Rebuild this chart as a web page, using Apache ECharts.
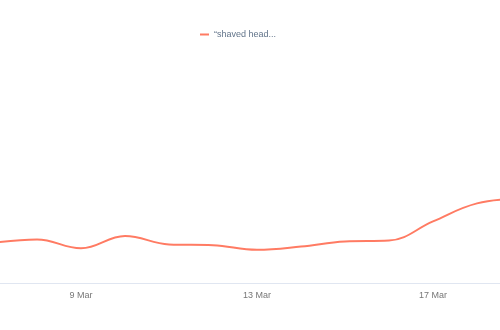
<!DOCTYPE html>
<html>
<head>
<meta charset="utf-8">
<script src="https://cdn.jsdelivr.net/npm/echarts@6/dist/echarts.min.js"></script>
<style>html,body{margin:0;padding:0;background:#fff}#c{width:500px;height:330px}</style>
</head>
<body>
<div id="c"></div>
<script>
var categories = ['7 Mar','8 Mar','9 Mar','10 Mar','11 Mar','12 Mar','13 Mar','14 Mar','15 Mar','16 Mar','17 Mar','18 Mar','19 Mar'];
var seriesName = '\u201Cshaved head...';
var values = [20, 21.8, 17.4, 23.5, 19.3, 18.9, 16.6, 18.2, 20.8, 21.2, 30.8, 39.8, 42];
var shownLabels = ['9 Mar','13 Mar','17 Mar'];

var chart = echarts.init(document.getElementById('c'), null, {renderer:'canvas'});
chart.setOption({
  animation: false,
  legend: {
    left: 195, top: 25,
    icon: 'rect', itemWidth: 9, itemHeight: 2, itemGap: 10,
    textStyle: {color: '#62748a', fontSize: 9, fontFamily: 'Liberation Sans'},
    data: [seriesName]
  },
  grid: {left: -7, right: -21, top: 83, bottom: 47, containLabel: false, outerBoundsMode: 'none'},
  xAxis: {
    type: 'category', boundaryGap: false, data: categories,
    axisLine: {lineStyle: {color: '#e0e6f1', width: 1}},
    axisTick: {show: false},
    axisLabel: {
      interval: function(i, v){ return shownLabels.indexOf(v) >= 0; },
      color: '#777', fontSize: 9, fontFamily: 'Liberation Sans', margin: 8
    },
    splitLine: {show: false}
  },
  yAxis: {type: 'value', min: 0, max: 100, show: false},
  series: [{
    name: seriesName, type: 'line', data: values, smooth: 0.4,
    symbol: 'none', lineStyle: {color: '#ff7b63', width: 2}, itemStyle: {color: '#ff7b63'}
  }]
});
</script>
</body>
</html>
